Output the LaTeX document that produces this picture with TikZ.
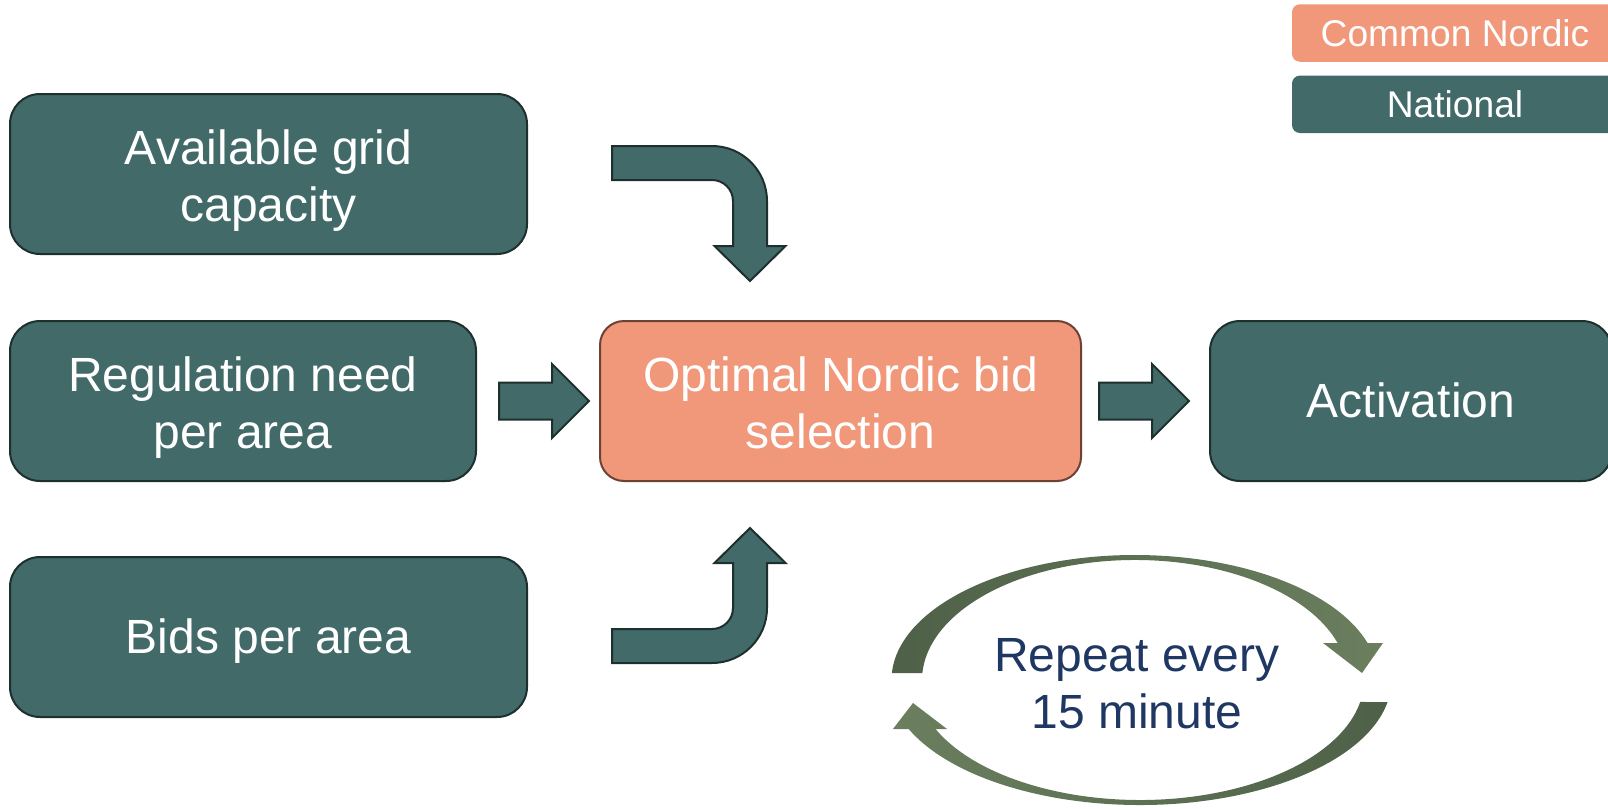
\documentclass[tikz,border=0pt]{standalone}
\usepackage{fontspec}
\setmainfont{Liberation Sans}
\usepackage{xcolor}
\usepackage{tikz}
\usetikzlibrary{positioning, calc}

\definecolor{national}{RGB}{65,106,104}
\definecolor{natline}{RGB}{30,48,46}
\definecolor{nordic}{RGB}{241,151,122}
\definecolor{nordline}{RGB}{107,66,52}
\definecolor{cycdark}{RGB}{78,97,72}
\definecolor{cyclight}{RGB}{107,127,95}
\definecolor{repeattext}{RGB}{31,55,99}

\begin{document}
\begin{tikzpicture}[
  natbox/.style={rectangle, draw=natline, line width=1pt, fill=national, text=white, align=center, minimum height=80pt, rounded corners=15pt, font=\fontsize{24}{28.5}\selectfont, text height=21.5pt, text depth=5pt},
  twolines/.style={text height=52.5pt},
  nordbox/.style={natbox, draw=nordline, fill=nordic, rounded corners=12pt},
  legend/.style={rectangle, text=white, minimum width=163pt, minimum height=28.75pt, rounded corners=4pt, font=\fontsize{18.6}{21}\selectfont},
  blockarrow/.style={draw=natline, line width=1pt, fill=national, line join=miter},
  cycarrow/.style={line width=0pt}
]
\useasboundingbox (0,0) rectangle (804pt,-404.5pt);

\node[nordbox, twolines, minimum width=240.5pt] (opt) at (420.25pt,-200.5pt) {Optimal Nordic bid\\selection};
\node[natbox, twolines, minimum width=233pt, left=61pt of opt] (need) {Regulation need\\per area};
\node[natbox, twolines, minimum width=258.5pt, above=32.5pt of need.north west, anchor=south west] (grid) {Available grid\\capacity};
\node[natbox, minimum width=258.5pt, below=37pt of need.south west, anchor=north west] (bids) {Bids per area};
\node[natbox, minimum width=201pt, right=63.5pt of opt] (act) {Activation};

\node[legend, fill=nordic] (lnordic) at (727.5pt,-16.5pt) {Common Nordic};
\node[legend, fill=national, below=6.5pt of lnordic] (lnational) {National};

\draw[blockarrow] ($(need.east)+(11pt,0)$) ++(0,9.25pt) -- ++(26.5pt,0) -- ++(0,9.25pt) -- ++(18.5pt,-18.5pt) -- ++(-18.5pt,-18.5pt) -- ++(0,9.25pt) -- ++(-26.5pt,0) -- cycle;
\draw[blockarrow] ($(opt.east)+(8.5pt,0)$) ++(0,9.25pt) -- ++(26.5pt,0) -- ++(0,9.25pt) -- ++(18.5pt,-18.5pt) -- ++(-18.5pt,-18.5pt) -- ++(0,9.25pt) -- ++(-26.5pt,0) -- cycle;
\draw[blockarrow] ($(opt.north)+(-45.25pt,19.5pt)$) -- ++(17.75pt,17.5pt) -- ++(-9.25pt,0) -- ++(0,22.5pt) arc[start angle=0, end angle=90, radius=27.5pt] -- ++(-50pt,0) -- ++(0,-17pt) -- ++(50pt,0) arc[start angle=90, end angle=0, radius=10.5pt] -- ++(0,-22.5pt) -- ++(-9.25pt,0) -- cycle;
\draw[blockarrow] ($(opt.south)+(-45.25pt,-23pt)$) -- ++(17.75pt,-17.5pt) -- ++(-9.25pt,0) -- ++(0,-22.5pt) arc[start angle=0, end angle=-90, radius=27.5pt] -- ++(-50pt,0) -- ++(0,17pt) -- ++(50pt,0) arc[start angle=-90, end angle=0, radius=10.5pt] -- ++(0,22.5pt) -- ++(-9.25pt,0) -- cycle;

\coordinate (cyctop) at (567.5pt,-340pt);
\coordinate (cycbot) at (570pt,-340pt);
\path[cycarrow, left color=cycdark, right color=cyclight] ($(cyctop)+(176.79:121.75pt and 62.5pt)$) arc[start angle=176.79, end angle=17.22, x radius=121.75pt, y radius=62.5pt] -- ($(cyctop)+(124pt,18.5pt)$) -- ($(cyctop)+(113.5pt,3.5pt)$) -- ($(cyctop)+(94pt,18.5pt)$) -- ($(cyctop)+(17.96:106.5pt and 60pt)$) arc[start angle=17.96, end angle=176.66, x radius=106.5pt, y radius=60pt] -- cycle;
\path[cycarrow, left color=cyclight, right color=cycdark] ($(cycbot)+(-10.14:125.75pt and 62.5pt)$) arc[start angle=-10.14, end angle=-156.92, x radius=125.75pt, y radius=62.5pt] -- ($(cycbot)+(-123.5pt,-24.5pt)$) -- ($(cycbot)+(-113.5pt,-11.5pt)$) -- ($(cycbot)+(-96.5pt,-24.5pt)$) -- ($(cycbot)+(-155.9:112pt and 60pt)$) arc[start angle=-155.9, end angle=-10.56, x radius=112pt, y radius=60pt] -- cycle;
\node[align=center, text=repeattext, font=\fontsize{24}{28.5}\selectfont] (rep) at (568.5pt,-342pt) {Repeat every\\15 minute};

\end{tikzpicture}
\end{document}
